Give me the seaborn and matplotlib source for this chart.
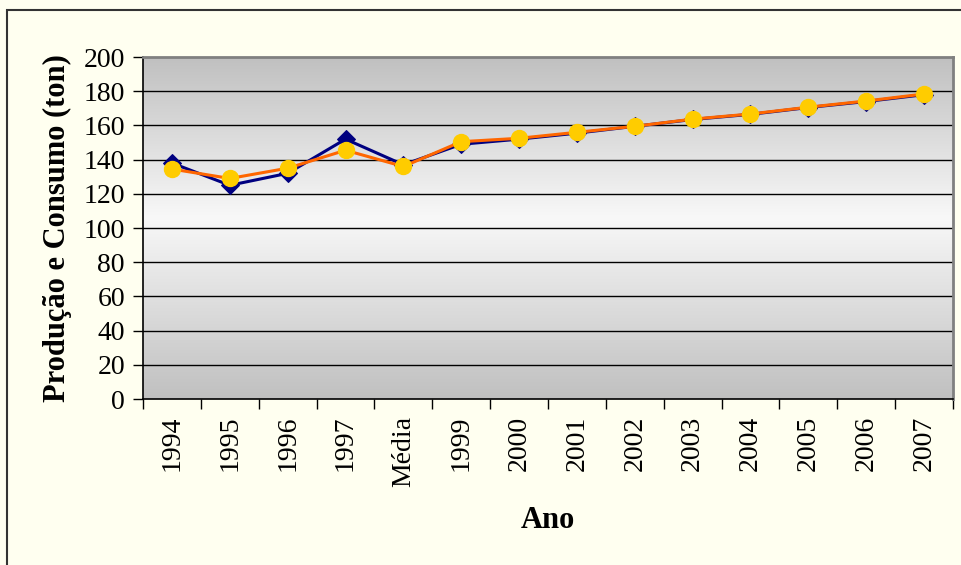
import numpy as np
import pandas as pd
import matplotlib.pyplot as plt
import seaborn as sns
from matplotlib.patches import Rectangle
from matplotlib.colors import LinearSegmentedColormap

# ── data ──────────────────────────────────────────────────────────────────────
anos = ["1994", "1995", "1996", "1997", "Média", "1999", "2000", "2001",
        "2002", "2003", "2004", "2005", "2006", "2007"]
producao = [138, 125, 132, 152, 137, 149, 152, 155.5, 159.5, 163.5, 166.5, 170.5, 174, 178]
consumo = [134.5, 129, 135, 145.5, 136, 150.5, 152.5, 156, 159.5, 163.7, 166.7, 170.7, 174.3, 178.4]

df = pd.DataFrame({"pos": np.arange(len(anos)), "producao": producao, "consumo": consumo})

# ── figure ────────────────────────────────────────────────────────────────────
sns.set_style("white")
plt.rcParams["font.family"] = ["Liberation Serif", "DejaVu Serif"]
plt.rcParams["text.color"] = "black"
plt.rcParams["xtick.color"] = "black"
plt.rcParams["ytick.color"] = "black"
plt.rcParams["axes.labelcolor"] = "black"

bg = "#FFFFF0"
fig = plt.figure(figsize=(9.62, 5.65), dpi=100, facecolor=bg)
ax = fig.add_axes([0.1487, 0.2938, 0.8419, 0.6052])
ax.set_facecolor("none")

# outer chart border (right/bottom run off the picture)
fig.patches.append(Rectangle((7 / 962, -0.05), 1.1, 1 - 10 / 565 + 0.05,
                             transform=fig.transFigure, fill=False,
                             edgecolor="#333333", linewidth=1.5))

# plot area gradient: grey at top and bottom, near white in the middle
cmap = LinearSegmentedColormap.from_list(
    "plotarea", [(0, "#C0C0C0"), (0.53, "#F8F8F8"), (1, "#C0C0C0")])
grad = np.linspace(0, 1, 256).reshape(-1, 1)
ax.imshow(grad, cmap=cmap, aspect="auto", extent=[-0.5, len(anos) - 0.5, 0, 200],
          origin="lower", zorder=0)

for v in range(20, 200, 20):
    ax.axhline(v, color="#000000", linewidth=1.0, zorder=1)

# series
sns.lineplot(data=df, x="pos", y="producao", ax=ax, color="#000080", linewidth=2.2,
             marker="D", markersize=9, markeredgecolor="#000080", zorder=3)
sns.lineplot(data=df, x="pos", y="consumo", ax=ax, color="#FF6600", linewidth=2.2,
             zorder=4)
ax.plot(df["pos"], df["consumo"], linestyle="none", marker="o", markersize=11.5,
        color="#FFCC00", markeredgecolor="#FFCC00", zorder=5)

ax.set_xlim(-0.5, len(anos) - 0.5)
ax.set_ylim(0, 200)
ax.set_yticks(range(0, 201, 20))
ax.set_xticks(df["pos"])
ax.set_xticklabels(anos, rotation=90, fontsize=20)
ax.set_xticks(np.arange(-0.5, len(anos)), minor=True)
ax.tick_params(axis="x", which="major", length=0, pad=12)
ax.tick_params(axis="x", which="minor", length=7, width=1, color="#000000", direction="out")
ax.tick_params(axis="y", length=7, width=1, color="#000000", direction="out", labelsize=20, pad=6)
ax.tick_params(axis="both", bottom=True, left=True)
ax.xaxis.set_tick_params(which="minor", bottom=True)

for side in ["top", "right"]:
    ax.spines[side].set_color("#808080")
    ax.spines[side].set_linewidth(2)
ax.spines["bottom"].set_color("#000000")
ax.spines["left"].set_color("#000000")
ax.spines["bottom"].set_linewidth(1.2)
ax.spines["left"].set_linewidth(1.2)

ax.set_xlabel("Ano", fontsize=22, fontweight="bold", labelpad=14)
ax.set_ylabel("Produção e Consumo (ton)", fontsize=22, fontweight="bold", labelpad=8)

fig.savefig("out.png", dpi=100, facecolor=bg)
